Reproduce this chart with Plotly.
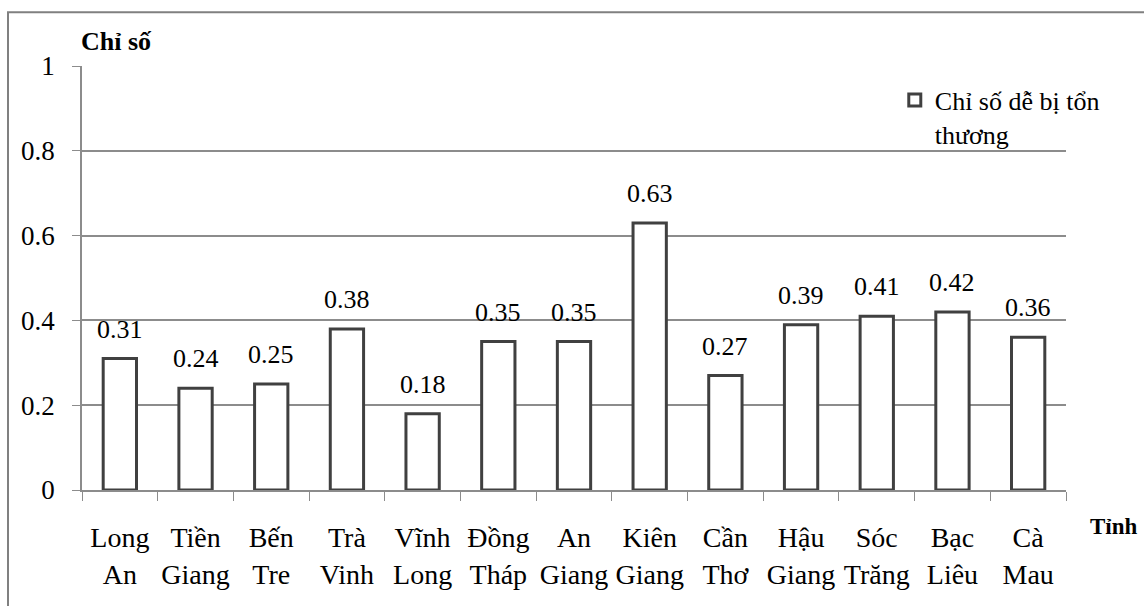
import plotly.graph_objects as go

provinces = ["Long<br>An", "Tiền<br>Giang", "Bến<br>Tre", "Trà<br>Vinh", "Vĩnh<br>Long",
             "Đồng<br>Tháp", "An<br>Giang", "Kiên<br>Giang", "Cần<br>Thơ", "Hậu<br>Giang",
             "Sóc<br>Trăng", "Bạc<br>Liêu", "Cà<br>Mau"]
values = [0.31, 0.24, 0.25, 0.38, 0.18, 0.35, 0.35, 0.63, 0.27, 0.39, 0.41, 0.42, 0.36]
series_name = "Chỉ số dễ bị tổn<br>thương"

FONT = "'Liberation Serif', 'Times New Roman', Times, serif"
GRAY = "#8c8c8c"

fig = go.Figure()
fig.add_trace(go.Bar(
    x=provinces, y=values, name=series_name,
    marker=dict(color="white", line=dict(color="#404040", width=3)),
    showlegend=True,
))

for p, v in zip(provinces, values):
    fig.add_annotation(x=p, y=v, text=f"{v:.2f}", showarrow=False,
                       yanchor="bottom", yshift=13,
                       font=dict(family=FONT, size=26, color="black"))

fig.add_annotation(xref="paper", yref="paper", x=-0.003, y=1.02, xanchor="left", yanchor="bottom",
                   text="<b>Chỉ số</b>", showarrow=False,
                   font=dict(family=FONT, size=26, color="black"))
fig.add_annotation(xref="paper", yref="paper", x=1.022, y=-0.085, xanchor="left", yanchor="middle",
                   text="<b>Tỉnh</b>", showarrow=False,
                   font=dict(family=FONT, size=23, color="black"))

fig.add_shape(type="rect", xref="paper", yref="paper",
              x0=-0.0752, y0=-0.4, x1=1.2, y1=1.127,
              line=dict(color="#808080", width=2), fillcolor="rgba(0,0,0,0)", layer="below")

fig.update_layout(
    width=1144, height=606,
    margin=dict(l=82, r=78, t=66, b=116),
    paper_bgcolor="white", plot_bgcolor="white",
    bargap=0.56,
    font=dict(family=FONT, size=26, color="black"),
    legend=dict(x=0.826, y=0.975, xanchor="left", yanchor="top", valign="top",
                bgcolor="rgba(0,0,0,0)", font=dict(family=FONT, size=26, color="black"),
                itemwidth=30, tracegroupgap=0),
)
fig.update_xaxes(
    showline=True, linecolor=GRAY, linewidth=1.5,
    ticks="outside", tickson="boundaries", ticklen=9, tickcolor=GRAY, tickwidth=1,
    showgrid=False, tickangle=0, ticklabelstandoff=22,
    tickfont=dict(family=FONT, size=28, color="black"),
)
fig.update_yaxes(
    range=[0, 1], dtick=0.2, tick0=0,
    showline=True, linecolor=GRAY, linewidth=1.5,
    ticks="outside", ticklen=8, tickcolor=GRAY,
    showgrid=True, gridcolor=GRAY, gridwidth=1.5,
    zeroline=False, ticklabelstandoff=12,
    tickfont=dict(family=FONT, size=27, color="black"),
)

fig.write_html("out.html", config={"displayModeBar": False},
               post_script="document.body.style.margin='0';")
